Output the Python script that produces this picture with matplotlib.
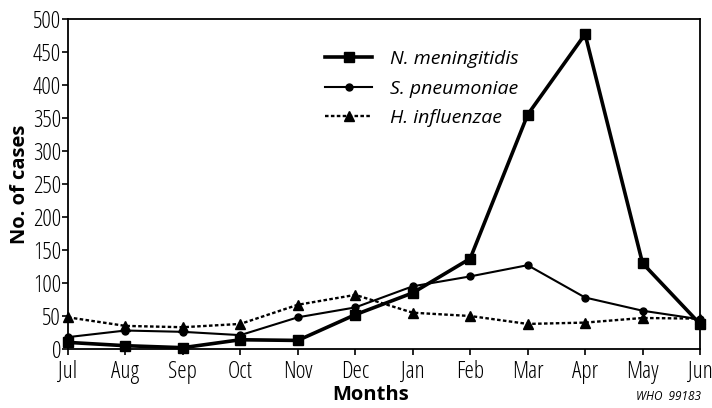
import matplotlib.pyplot as plt

months = ['Jul', 'Aug', 'Sep', 'Oct', 'Nov', 'Dec', 'Jan', 'Feb', 'Mar', 'Apr', 'May', 'Jun']
n_meningitidis = [10, 5, 2, 14, 13, 52, 85, 137, 355, 477, 130, 38]
s_pneumoniae = [18, 28, 26, 21, 48, 63, 95, 110, 127, 78, 58, 45]
h_influenzae = [48, 35, 33, 38, 67, 82, 55, 50, 38, 40, 47, 46]
yticks = list(range(0, 501, 50))

plt.rcParams['font.family'] = ['Open Sans', 'DejaVu Sans']
plt.rcParams['font.stretch'] = 'condensed'

fig = plt.figure(figsize=(7.12, 4.08), dpi=100)
ax = fig.add_axes([68 / 712, 1 - 349 / 408, 632 / 712, 330 / 408])

x = list(range(len(months)))
ax.plot(x, n_meningitidis, color='black', lw=2.6, marker='s', ms=6.5,
        label='N. meningitidis', clip_on=False, zorder=3)
ax.plot(x, s_pneumoniae, color='black', lw=1.5, marker='o', ms=5,
        label='S. pneumoniae', clip_on=False, zorder=3)
ax.plot(x, h_influenzae, color='black', lw=1.7, ls=(0, (1.5, 1)), marker='^', ms=6.5,
        label='H. influenzae', clip_on=False, zorder=3)

ax.set_xlim(0, len(months) - 1)
ax.set_ylim(0, 500)
ax.set_xticks(x)
ax.set_xticklabels(months, fontsize=17, fontweight='medium')
ax.set_yticks(yticks)
ax.set_yticklabels([str(v) for v in yticks], fontsize=17, fontweight='medium')
ax.tick_params(direction='out', length=4, width=1.2, pad=1)
ax.tick_params(axis='x', pad=4)
for s in ax.spines.values():
    s.set_linewidth(1.3)

ax.set_xlabel('Months', fontsize=14.5, fontweight='bold')
ax.xaxis.set_label_coords((371 - 68) / 632, -0.108)
ax.set_ylabel('No. of cases', fontsize=14.5, fontweight='bold', labelpad=2)

leg = ax.legend(loc='upper left', bbox_to_anchor=(0.395, 0.93), frameon=False,
                prop={'size': 14, 'style': 'italic', 'stretch': 'normal'},
                handlelength=2.4, handletextpad=0.9, labelspacing=0.6,
                borderaxespad=0)

fig.text(0.985, 0.012, 'WHO  99183', fontsize=8.5, style='italic', stretch='normal',
         ha='right', va='bottom')

fig.savefig('out.png', dpi=100)
